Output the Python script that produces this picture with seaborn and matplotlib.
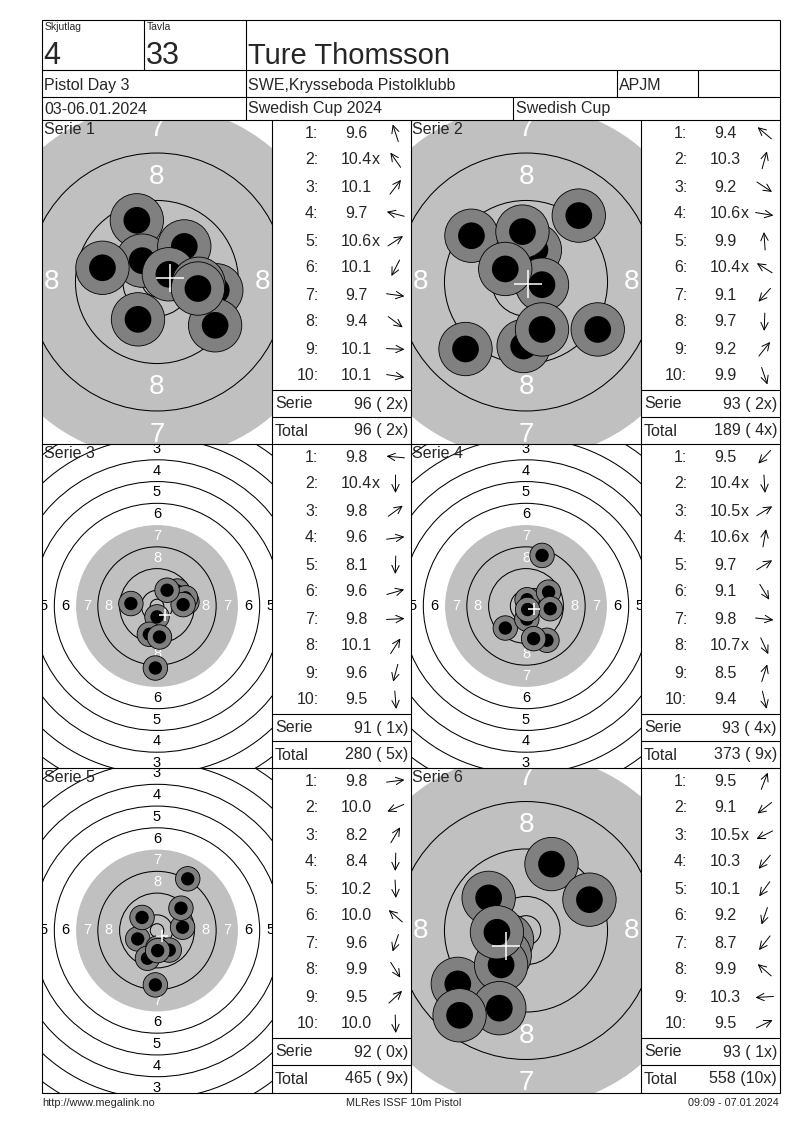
import numpy as np
import pandas as pd
import matplotlib
matplotlib.use("Agg")
import matplotlib.pyplot as plt
from matplotlib.patches import Circle
import seaborn as sns

# ---------------- header / footer texts ----------------
relay = "4"
target_no = "33"
shooter = "Ture Thomsson"
event = "Pistol Day 3"
club = "SWE,Krysseboda Pistolklubb"
shooter_class = "APJM"
dates = "03-06.01.2024"
competition = "Swedish Cup 2024"
cup = "Swedish Cup"
footer_left = "http://www.megalink.no"
footer_mid = "MLRes ISSF 10m Pistol"
footer_right = "09:09 - 07.01.2024"

# ---------------- shots: decimal score ("x" = inner ten) ----------------
scores_1 = ["9.6", "10.4x", "10.1", "9.7", "10.6x", "10.1", "9.7", "9.4", "10.1", "10.1"]
scores_2 = ["9.4", "10.3", "9.2", "10.6x", "9.9", "10.4x", "9.1", "9.7", "9.2", "9.9"]
scores_3 = ["9.8", "10.4x", "9.8", "9.6", "8.1", "9.6", "9.8", "10.1", "9.6", "9.5"]
scores_4 = ["9.5", "10.4x", "10.5x", "10.6x", "9.7", "9.1", "9.8", "10.7x", "8.5", "9.4"]
scores_5 = ["9.8", "10.0", "8.2", "8.4", "10.2", "10.0", "9.6", "9.9", "9.5", "10.0"]
scores_6 = ["9.5", "9.1", "10.5x", "10.3", "10.1", "9.2", "8.7", "9.9", "10.3", "9.5"]

# shot positions, mm from target centre (x right, y up)
x_1 = [-3.4, -2.5, 4.6, -9.2, 2.0, -3.2, 10.0, 9.8, 7.0, 6.9]
y_1 = [10.4, 3.6, 6.0, 2.4, 1.3, -6.3, -1.4, -7.3, -0.3, -1.1]
x_2 = [-9.2, 1.5, 12.1, 2.7, -0.6, -3.5, -10.2, -0.4, 8.9, 2.7]
y_2 = [7.8, 5.4, -8.0, -0.45, 8.5, 2.2, -11.3, -10.8, 11.2, -8.0]
x_3 = [-9.6, 0.0, 7.5, 11.0, -0.6, 10.5, 9.6, 3.7, -2.8, 0.9]
y_3 = [0.9, -4.0, 5.5, 1.5, -22.8, 3.0, 0.5, 5.8, -10.4, -11.4]
x_4 = [-7.6, 0.3, 3.3, 0.4, 8.3, 7.7, 8.9, 0.6, 5.9, 2.8]
y_4 = [-8.1, -4.8, 2.0, 2.3, 5.1, -12.6, -1.0, -1.3, 18.6, -12.0]
x_5 = [9.4, -7.1, 11.3, -0.6, 0.3, -5.5, -3.5, 4.5, 8.8, 0.25]
y_5 = [1.2, -3.1, 19.0, -20.0, -6.4, 4.8, -10.2, -7.2, 8.2, -7.4]
x_6 = [4.3, -11.5, -3.2, -3.6, -4.2, -4.5, -11.2, -6.3, -4.9, 10.7]
y_6 = [11.2, -9.0, -1.6, -4.2, -5.8, -13.1, -14.3, 5.5, -0.3, 5.2]

# which series are shown as a close-up of the black
zoomed = [True, True, False, False, False, True]

all_scores = [scores_1, scores_2, scores_3, scores_4, scores_5, scores_6]
all_x = [x_1, x_2, x_3, x_4, x_5, x_6]
all_y = [y_1, y_2, y_3, y_4, y_5, y_6]

rows = []
for s in range(6):
    for i in range(10):
        txt = all_scores[s][i]
        rows.append({"serie": s + 1, "shot": i + 1, "score": txt.rstrip("x"),
                     "inner": txt.endswith("x"), "x": all_x[s][i], "y": all_y[s][i]})
df = pd.DataFrame(rows)
df["points"] = np.floor(df["score"].astype(float) + 1e-9).astype(int)

# ---------------- ISSF 10m air pistol target geometry (mm) ----------------
RING_R = {k: 5.75 + 8.0 * (10 - k) for k in range(1, 11)}
INNER_TEN = 2.5
PELLET_R = 2.25
HALO_R = 4.5
BLACK_R = RING_R[7]

sns.set_style("white")
plt.rcParams["font.family"] = ["Liberation Sans", "DejaVu Sans"]

W, H = 800, 1130
fig = plt.figure(figsize=(8, 11.3), dpi=100)
bg = fig.add_axes([0, 0, 1, 1], zorder=10)
bg.set_xlim(0, W)
bg.set_ylim(H, 0)
bg.axis("off")
bg.patch.set_alpha(0)

LW = 0.8
LEFT, RIGHT, TOP, BOTTOM = 42, 780, 20, 1093
col_tgt = [(42, 272), (411, 641)]
col_tab = [272, 641]
row_y = [(120, 444), (444, 768), (768, 1093)]


def hline(y, x0=LEFT, x1=RIGHT):
    bg.plot([x0, x1], [y, y], color="black", lw=LW, solid_capstyle="butt")


def vline(x, y0, y1):
    bg.plot([x, x], [y0, y1], color="black", lw=LW, solid_capstyle="butt")


# ---------------- header ----------------
bg.add_patch(plt.Rectangle((LEFT, TOP), RIGHT - LEFT, BOTTOM - TOP, fill=False, lw=LW, ec="black"))
for y in [70, 96.5, 120]:
    hline(y)
vline(144, 20, 70)
vline(246, 20, 120)
vline(616.5, 70, 96.5)
vline(698, 70, 96.5)
vline(513, 96.5, 120)

bg.text(44.5, 29.5, "Skjutlag", fontsize=7.5, va="baseline")
bg.text(146.5, 29.5, "Tavla", fontsize=7.5, va="baseline")
bg.text(43.5, 63.5, relay, fontsize=22, va="baseline")
bg.text(145.5, 63.5, target_no, fontsize=22, va="baseline")
bg.text(248.5, 63.5, shooter, fontsize=21, va="baseline")
bg.text(44.5, 90, event, fontsize=11.5, va="baseline")
bg.text(248.5, 90, club, fontsize=11.5, va="baseline")
bg.text(619, 90, shooter_class, fontsize=11.5, va="baseline")
bg.text(44.5, 113.5, dates, fontsize=11.5, va="baseline")
bg.text(248.5, 113.5, competition, fontsize=11.5, va="baseline")
bg.text(515.5, 113.5, cup, fontsize=11.5, va="baseline")

# panel grid
for (_, yb) in row_y[:-1]:
    hline(yb)
for x in [272, 411, 641]:
    vline(x, 120, BOTTOM)

bg.text(42, 1106, footer_left, fontsize=7.8, va="baseline", ha="left")
bg.text(404, 1106, footer_mid, fontsize=7.8, va="baseline", ha="center")
bg.text(779, 1106, footer_right, fontsize=7.8, va="baseline", ha="right")


def draw_target(s, sub, zoom):
    ci, ri = s % 2, s // 2
    x0, x1 = col_tgt[ci]
    y0, y1 = row_y[ri]
    scale = 5.93 if zoom else 2.72
    ax = fig.add_axes([x0 / W, 1 - y1 / H, (x1 - x0) / W, (y1 - y0) / H], zorder=1)
    ax.axis("off")

    ax.add_patch(Circle((0, 0), BLACK_R, fc="#c0c0c0", ec="none", zorder=1))
    for k in [10, 9, 8, 6, 5, 4, 3, 2, 1]:
        ax.add_patch(Circle((0, 0), RING_R[k], fill=False, ec="black", lw=0.75, zorder=2))
    ax.add_patch(Circle((0, 0), INNER_TEN, fill=False, ec="black", lw=0.75, zorder=2))

    fs = 20 if zoom else 10.5
    for k in range(1, 9):
        r = (RING_R[k] + RING_R[k + 1]) / 2
        col = "white" if k >= 7 else "black"
        for px, py in [(0, r), (0, -r), (r, 0), (-r, 0)]:
            ax.text(px, py, str(k), fontsize=fs, color=col, ha="center", va="center",
                    zorder=3, clip_on=True)

    pellet = PELLET_R if zoom else 2.45
    for i, shot in enumerate(sub.itertuples()):
        ax.add_patch(Circle((shot.x, shot.y), HALO_R, fc="#808080", ec="black", lw=0.6, zorder=4 + 2 * i))
        ax.add_patch(Circle((shot.x, shot.y), pellet, fc="black", ec="none", zorder=5 + 2 * i))

    centre = pd.DataFrame({"x": [sub["x"].mean()], "y": [sub["y"].mean()]})
    sns.scatterplot(data=centre, x="x", y="y", marker="+", s=380 if zoom else 70,
                    color="white", linewidth=1.1, ax=ax, zorder=50, legend=False)

    ax.set_xlim(-(x1 - x0) / 2 / scale, (x1 - x0) / 2 / scale)
    ax.set_ylim(-(y1 - y0) / 2 / scale, (y1 - y0) / 2 / scale)
    bg.text(x0 + 1.5, y0 + 14, f"Serie {s + 1}", fontsize=11.5, va="baseline", ha="left")


def draw_table(s, sub, total, total_x):
    ci, ri = s % 2, s // 2
    tx = col_tab[ci]
    ty = row_y[ri][0]
    hline(ty + 270, tx, tx + 139)
    hline(ty + 297, tx, tx + 139)
    for i, shot in enumerate(sub.itertuples()):
        yc = ty + 13 + 27 * i
        bg.text(tx + 46.5, yc, f"{shot.shot}:", fontsize=11.5, ha="right", va="center")
        bg.text(tx + 84, yc, shot.score, fontsize=11.5, ha="center", va="center")
        if shot.inner:
            bg.text(tx + 99.5, yc, "x", fontsize=11.5, ha="left", va="center")
        ang = np.arctan2(shot.y, shot.x)
        dx, dy = 9 * np.cos(ang), -9 * np.sin(ang)
        ax_c = tx + 123.5
        bg.annotate("", xy=(ax_c + dx, yc + dy), xytext=(ax_c - dx, yc - dy),
                    arrowprops=dict(arrowstyle="->,head_length=0.45,head_width=0.22",
                                    lw=0.7, color="black", shrinkA=0, shrinkB=0,
                                    mutation_scale=12))
    serie_pts = int(sub["points"].sum())
    serie_x = int(sub["inner"].sum())
    bg.text(tx + 3, ty + 284, "Serie", fontsize=11.5, ha="left", va="center")
    bg.text(tx + 136, ty + 284, f"{serie_pts} ({serie_x:2d}x)", fontsize=11.5, ha="right", va="center")
    bg.text(tx + 3, ty + 311, "Total", fontsize=11.5, ha="left", va="center")
    bg.text(tx + 136, ty + 311, f"{total} ({total_x:2d}x)", fontsize=11.5, ha="right", va="center")


total, total_x = 0, 0
for s in range(6):
    sub = df[df["serie"] == s + 1]
    total += int(sub["points"].sum())
    total_x += int(sub["inner"].sum())
    draw_target(s, sub, zoomed[s])
    draw_table(s, sub, total, total_x)

fig.savefig("out.png", dpi=100)
